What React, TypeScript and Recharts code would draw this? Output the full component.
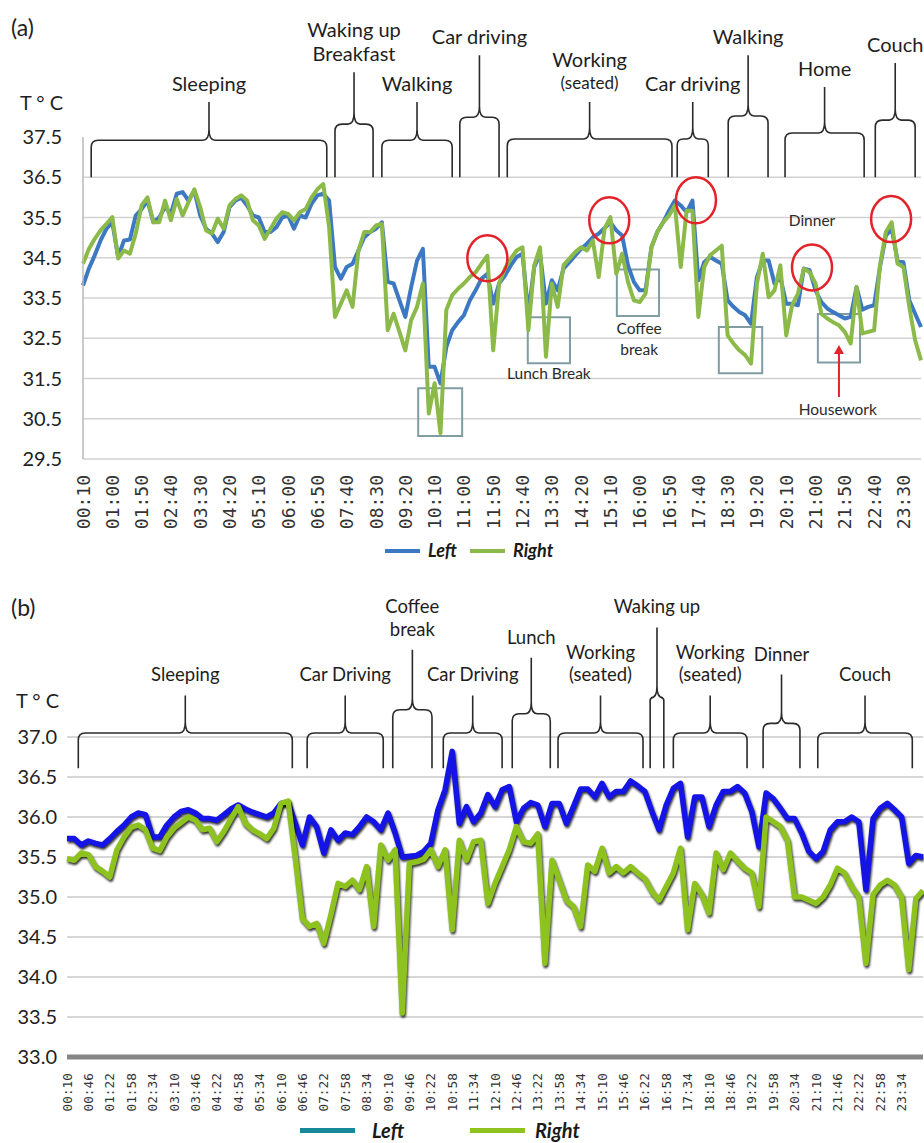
import React from 'react';
import {
  LineChart,
  Line,
  XAxis,
  YAxis,
  CartesianGrid,
  ReferenceArea,
  ReferenceDot,
  ReferenceLine,
} from 'recharts';

// Panel (a): skin temperature, one reading every 10 min from 00:10
const START_A = 10;
const STEP_A = 10;
const LEFT_A = [
  33.81, 34.23, 34.56, 34.93, 35.22, 35.38, 34.52, 34.93, 34.95, 35.55,
  35.71, 35.92, 35.38, 35.5, 35.76, 35.6, 36.09, 36.13, 35.92, 36.17,
  35.55, 35.22, 35.1, 34.89, 35.14, 35.76, 35.92, 35.99, 35.8, 35.55,
  35.5, 35.14, 35.14, 35.26, 35.5, 35.55, 35.22, 35.55, 35.5, 35.84,
  36.05, 36.09, 35.92, 34.27, 33.98, 34.27, 34.35, 34.68, 35.01, 35.14,
  35.22, 35.38, 33.9, 33.86, 33.44, 33.03, 33.77, 34.43, 34.72, 31.79,
  31.79, 31.38, 32.28, 32.7, 32.9, 33.07, 33.44, 33.69, 33.98, 34.1,
  33.36, 33.86, 34.06, 34.31, 34.52, 34.6, 33.11, 34.27, 34.6, 33.36,
  33.94, 33.69, 34.23, 34.39, 34.56, 34.72, 34.85, 35.01, 35.1, 35.24,
  35.38, 35.18, 35.05, 34.31, 33.9, 33.69, 33.69, 34.76, 35.14, 35.38,
  35.67, 35.92, 35.8, 35.63, 35.92, 33.94, 34.39, 34.52, 34.43, 34.35,
  33.44, 33.28, 33.15, 33.07, 32.86, 34.02, 34.43, 34.43, 33.86, 34.02,
  33.36, 33.36, 33.32, 34.23, 34.19, 33.69, 33.4, 33.24, 33.15, 33.07,
  32.99, 33.03, 33.77, 33.21, 33.28, 33.32, 34.27, 35.05, 35.22, 34.43,
  34.39, 33.44, 33.11, 32.78,
];
const RIGHT_A = [
  34.35, 34.72, 34.97, 35.18, 35.34, 35.51, 34.48, 34.68, 34.6, 35.1,
  35.8, 36.0, 35.38, 35.38, 35.92, 35.43, 35.96, 35.55, 35.88, 36.2,
  35.76, 35.18, 35.1, 35.47, 35.22, 35.8, 35.96, 36.05, 35.92, 35.43,
  35.3, 34.97, 35.22, 35.47, 35.63, 35.59, 35.43, 35.63, 35.71, 36.0,
  36.2, 36.33, 35.26, 33.03, 33.36, 33.69, 33.28, 34.68, 35.14, 35.14,
  35.3, 35.34, 32.7, 33.11, 32.66, 32.2, 32.95, 33.28, 33.86, 30.63,
  31.38, 30.14, 33.2, 33.57, 33.73, 33.86, 34.02, 34.14, 34.35, 34.55,
  32.2, 33.86, 34.23, 34.48, 34.68, 34.76, 32.7, 34.31, 34.76, 32.04,
  33.86, 33.28, 34.31, 34.48, 34.64, 34.76, 34.68, 34.93, 34.02, 35.22,
  35.51, 34.1, 34.6, 33.9, 33.44, 33.4, 33.61, 34.76, 35.14, 35.38,
  35.55, 35.8, 34.27, 35.67, 35.67, 33.03, 34.27, 34.56, 34.68, 34.8,
  32.57, 32.37, 32.2, 32.08, 31.87, 33.86, 34.6, 33.52, 33.69, 34.31,
  32.57, 33.32, 33.61, 34.23, 34.14, 33.86, 33.11, 32.99, 32.9, 32.82,
  32.66, 32.37, 33.77, 32.62, 32.66, 32.7, 34.31, 35.14, 35.38, 34.35,
  34.27, 33.28, 32.45, 31.95,
];
const TICKS_A = [
  10, 60, 110, 160, 210, 260, 310, 360, 410, 460, 510, 560, 610, 660, 710,
  760, 810, 860, 910, 960, 1010, 1060, 1110, 1160, 1210, 1260, 1310, 1360, 1410,
];
const Y_TICKS_A = [29.5, 30.5, 31.5, 32.5, 33.5, 34.5, 35.5, 36.5, 37.5];
const GRID_A = [29.5, 30.5, 31.5, 32.5, 33.5, 34.5, 35.5, 36.5];

// Panel (b): one reading every 12 min from 00:10
const START_B = 10;
const STEP_B = 12;
const LEFT_B = [
  35.73, 35.73, 35.65, 35.7, 35.67, 35.65, 35.73, 35.82, 35.9, 36.0,
  36.05, 36.03, 35.75, 35.75, 35.9, 36.0, 36.07, 36.09, 36.05, 35.98,
  35.98, 35.96, 36.03, 36.1, 36.15, 36.1, 36.06, 36.03, 36.0, 36.05,
  36.17, 36.18, 35.92, 35.65, 36.0, 35.88, 35.55, 35.84, 35.71, 35.8,
  35.78, 35.88, 36.0, 35.94, 35.84, 36.05, 35.8, 35.5, 35.51, 35.52,
  35.57, 35.67, 36.09, 36.34, 36.82, 35.92, 36.13, 35.94, 36.05, 36.28,
  36.13, 36.34, 36.38, 35.94, 36.11, 36.18, 36.15, 35.88, 36.17, 36.17,
  35.92, 36.13, 36.35, 36.35, 36.25, 36.42, 36.25, 36.32, 36.32, 36.45,
  36.39, 36.32, 36.07, 35.84, 36.15, 36.36, 36.42, 35.75, 36.25, 36.25,
  35.88, 36.15, 36.32, 36.32, 36.38, 36.3, 36.07, 35.63, 36.3, 36.23,
  36.11, 35.98, 35.98, 35.8, 35.57, 35.48, 35.57, 35.84, 35.94, 35.94,
  36.0, 35.94, 35.09, 35.98, 36.11, 36.17, 36.09, 36.0, 35.42, 35.52,
  35.5,
];
const RIGHT_B = [
  35.48, 35.46, 35.55, 35.53, 35.38, 35.32, 35.25, 35.59, 35.75, 35.87,
  35.9, 35.84, 35.61, 35.58, 35.75, 35.86, 35.93, 36.0, 35.96, 35.84,
  35.86, 35.69, 35.82, 35.98, 36.13, 35.92, 35.84, 35.79, 35.73, 35.86,
  36.17, 36.2, 35.5, 34.73, 34.63, 34.67, 34.42, 34.78, 35.17, 35.13,
  35.21, 35.09, 35.38, 34.63, 35.65, 35.46, 35.59, 33.55, 35.42, 35.44,
  35.47, 35.59, 35.38, 35.59, 34.59, 35.71, 35.46, 35.69, 35.71, 34.92,
  35.17, 35.38, 35.59, 35.88, 35.69, 35.67, 35.79, 34.17, 35.46, 35.21,
  34.96, 34.88, 34.63, 35.4, 35.32, 35.61, 35.3, 35.38, 35.3, 35.38,
  35.3, 35.23, 35.07, 34.96, 35.13, 35.3, 35.61, 34.59, 35.17, 35.03,
  34.8, 35.55, 35.34, 35.55, 35.45, 35.36, 35.3, 34.88, 36.0, 35.94,
  35.88, 35.71, 35.0, 35.0, 34.96, 34.92, 35.0, 35.15, 35.36, 35.3,
  35.13, 35.0, 34.17, 35.03, 35.15, 35.21, 35.15, 35.0, 34.09, 34.98,
  35.08,
];
const TICKS_B = [
  10, 46, 82, 118, 154, 190, 226, 262, 298, 334, 370, 406, 442, 478, 514, 550,
  586, 622, 658, 694, 730, 766, 802, 838, 874, 910, 946, 982, 1018, 1054, 1090,
  1126, 1162, 1198, 1234, 1270, 1306, 1342, 1378, 1414,
];
const Y_TICKS_B = [33.0, 33.5, 34.0, 34.5, 35.0, 35.5, 36.0, 36.5, 37.0];
const GRID_B = [33.5, 34.0, 34.5, 35.0, 35.5, 36.0, 36.5, 37.0];

// activity periods (minutes) with brace levels in °C
const BRACKETS_A = [
  { label: ['Sleeping'], from: 24, to: 426, top: 37.42, peak: 38.37 },
  { label: ['Waking up', 'Breakfast'], from: 440, to: 505, top: 37.82, peak: 39.11 },
  { label: ['Walking'], from: 520, to: 640, top: 37.42, peak: 38.37 },
  { label: ['Car driving'], from: 653, to: 720, top: 37.99, peak: 39.53 },
  { label: ['Working', '(seated)'], from: 734, to: 1015, top: 37.45, peak: 38.37 },
  { label: ['Car driving'], from: 1024, to: 1077, top: 37.45, peak: 38.37 },
  { label: ['Walking'], from: 1111, to: 1179, top: 38.02, peak: 39.53 },
  { label: ['Home'], from: 1208, to: 1343, top: 37.6, peak: 38.74 },
  { label: ['Couch'], from: 1362, to: 1430, top: 37.92, peak: 39.34 },
];
const BRACKETS_B = [
  { label: ['Sleeping'], from: 29, to: 389, top: 37.05, peak: 37.52 },
  { label: ['Car Driving'], from: 414, to: 542, top: 37.05, peak: 37.52 },
  { label: ['Coffee', 'break'], from: 558, to: 624, top: 37.34, peak: 38.09 },
  { label: ['Car Driving'], from: 643, to: 742, top: 37.05, peak: 37.52 },
  { label: ['Lunch'], from: 759, to: 823, top: 37.29, peak: 37.99 },
  { label: ['Working', '(seated)'], from: 836, to: 979, top: 37.05, peak: 37.52 },
  { label: ['Waking up'], from: 991, to: 1014, top: 37.49, peak: 38.37 },
  { label: ['Working', '(seated)'], from: 1030, to: 1154, top: 37.05, peak: 37.52 },
  { label: ['Dinner'], from: 1181, to: 1243, top: 37.17, peak: 37.78 },
  { label: ['Couch'], from: 1273, to: 1432, top: 37.05, peak: 37.52 },
];

const CIRCLES_A = [
  { t: 700, v: 34.49 },
  { t: 908, v: 35.43 },
  { t: 1056, v: 35.93 },
  { t: 1254, v: 34.26 },
  { t: 1389, v: 35.46 },
];
const BOXES_A = [
  { t1: 582, t2: 657, v1: 30.07, v2: 31.26 },
  { t1: 769, t2: 841, v1: 31.88, v2: 33.02 },
  { t1: 921, t2: 993, v1: 33.05, v2: 34.21 },
  { t1: 1095, t2: 1169, v1: 31.63, v2: 32.78 },
  { t1: 1264, t2: 1336, v1: 31.9, v2: 33.1 },
];
const NOTES_A = [
  { text: 'Lunch Break', t: 805, v: 31.64 },
  { text: 'Coffee', t: 959, v: 32.75 },
  { text: 'break', t: 959, v: 32.23 },
  { text: 'Dinner', t: 1254, v: 35.43 },
  { text: 'Housework', t: 1298, v: 30.74 },
];

const hhmm = (m: number) =>
  `${String(Math.floor(m / 60)).padStart(2, '0')}:${String(m % 60).padStart(2, '0')}`;

const dataA = LEFT_A.map((v, i) => ({ t: START_A + i * STEP_A, left: v, right: RIGHT_A[i] }));
const dataB = LEFT_B.map((v, i) => ({ t: START_B + i * STEP_B, left: v, right: RIGHT_B[i] }));

const SANS = 'Lato, "Noto Sans", sans-serif';
const MONO = '"DejaVu Sans Mono", monospace';

// curly brace drawn over the period, with its caption above the tip
const braceShape = (b: any, base: number, size: number, gap: number, smallParen: boolean) =>
  (p: any) => {
    const { x, y, width, height } = p;
    if (!isFinite(x) || !isFinite(y)) return <g />;
    const bottom = y + height;
    const flat = y + (height * (b.peak - b.top)) / (b.peak - base);
    const xm = x + width / 2;
    const xr = x + width;
    const r = Math.min(7, width / 5);
    const neck = Math.min(11, (flat - y) * 0.6);
    const d =
      `M${x},${bottom} L${x},${flat + r} Q${x},${flat} ${x + r},${flat} ` +
      `L${xm - 6},${flat} Q${xm},${flat} ${xm},${flat - neck} L${xm},${y} ` +
      `M${xm},${flat - neck} Q${xm},${flat} ${xm + 6},${flat} ` +
      `L${xr - r},${flat} Q${xr},${flat} ${xr},${flat + r} L${xr},${bottom}`;
    const n = b.label.length;
    return (
      <g>
        <path d={d} fill="none" stroke="#2b2b2b" strokeWidth={1.6} />
        {b.label.map((s: string, i: number) => (
          <text
            key={s + i}
            x={xm}
            y={y - gap - (n - 1 - i) * (size + 4)}
            textAnchor="middle"
            dominantBaseline="central"
            fontFamily={SANS}
            fontSize={smallParen && s.startsWith('(') ? size - 3 : size}
            fill="#1e1e1e"
          >
            {s}
          </text>
        ))}
      </g>
    );
  };

const makeTimeTick = (size: number) => (p: any) => (
  <text
    x={p.x}
    y={p.y}
    transform={`rotate(-90, ${p.x}, ${p.y})`}
    textAnchor="end"
    dominantBaseline="central"
    fontFamily={MONO}
    fontSize={size}
    fill="#333"
  >
    {hhmm(p.payload.value)}
  </text>
);

const LegendRow = ({ top, items, size }: { top: number; items: any[]; size: number }) => (
  <>
    {items.map((it) => (
      <React.Fragment key={it.name}>
        <div
          style={{
            position: 'absolute',
            left: it.x1,
            top: top - it.w / 2,
            width: it.x2 - it.x1,
            height: it.w,
            background: it.color,
          }}
        />
        <div
          style={{
            position: 'absolute',
            left: it.tx,
            top: top - size * 0.7,
            fontFamily: SANS,
            fontWeight: 700,
            fontStyle: 'italic',
            fontSize: size,
            lineHeight: `${size * 1.4}px`,
            color: '#1a1a1a',
          }}
        >
          {it.name}
        </div>
      </React.Fragment>
    ))}
  </>
);

const PanelA = () => (
  <div style={{ position: 'absolute', left: 0, top: 0 }}>
    <LineChart width={924} height={540} data={dataA} margin={{ top: 137, right: 3, bottom: 21, left: 0 }}>
      <CartesianGrid vertical={false} horizontalValues={GRID_A} stroke="#d2d2d2" strokeWidth={1.5} />
      <XAxis
        dataKey="t"
        type="number"
        domain={[10, 1440]}
        ticks={TICKS_A}
        interval={0}
        axisLine={false}
        tickLine={false}
        tickSize={0}
        tickMargin={16}
        height={60}
        tick={makeTimeTick(18)}
      />
      <YAxis
        type="number"
        domain={[29.5, 37.5]}
        ticks={Y_TICKS_A}
        interval={0}
        width={83}
        axisLine={{ stroke: '#b8b8b8', strokeWidth: 1.5 }}
        tickLine={false}
        tickSize={0}
        tickMargin={21}
        tick={{ fontFamily: SANS, fontSize: 20, fill: '#222' }}
        tickFormatter={(v: number) => v.toFixed(1)}
      />
      <Line
        type="linear"
        dataKey="left"
        stroke="#3d78c2"
        strokeWidth={4}
        strokeLinejoin="round"
        dot={false}
        isAnimationActive={false}
      />
      <Line
        type="linear"
        dataKey="right"
        stroke="#8cba4a"
        strokeWidth={4}
        strokeLinejoin="round"
        dot={false}
        isAnimationActive={false}
      />
      {BRACKETS_A.map((b, i) => (
        <ReferenceArea
          key={'ba' + i}
          x1={b.from}
          x2={b.to}
          y1={36.5}
          y2={b.peak}
          ifOverflow="visible"
          shape={braceShape(b, 36.5, 20, 19, true)}
        />
      ))}
      {BOXES_A.map((b, i) => (
        <ReferenceArea
          key={'bx' + i}
          x1={b.t1}
          x2={b.t2}
          y1={b.v1}
          y2={b.v2}
          fill="none"
          fillOpacity={0}
          stroke="#7f9da3"
          strokeWidth={2}
          ifOverflow="visible"
        />
      ))}
      {CIRCLES_A.map((c, i) => (
        <ReferenceDot
          key={'c' + i}
          x={c.t}
          y={c.v}
          r={20}
          ifOverflow="visible"
          shape={(p: any) => (
            <ellipse cx={p.cx} cy={p.cy} rx={20} ry={23} fill="none" stroke="#e3232a" strokeWidth={2.5} />
          )}
        />
      ))}
      {NOTES_A.map((n, i) => (
        <ReferenceDot
          key={'n' + i}
          x={n.t}
          y={n.v}
          r={1}
          ifOverflow="visible"
          shape={(p: any) => (
            <text
              x={p.cx}
              y={p.cy}
              textAnchor="middle"
              dominantBaseline="central"
              fontFamily={SANS}
              fontSize={15.5}
              fill="#2a2a2a"
            >
              {n.text}
            </text>
          )}
        />
      ))}
      <ReferenceLine
        segment={[
          { x: 1300, y: 31.04 },
          { x: 1300, y: 32.33 },
        ]}
        ifOverflow="visible"
        shape={(p: any) => (
          <g>
            <line x1={p.x1} y1={p.y1} x2={p.x2} y2={p.y2 + 6} stroke="#e3232a" strokeWidth={2} />
            <path
              d={`M${p.x2 - 5},${p.y2 + 9} L${p.x2},${p.y2} L${p.x2 + 5},${p.y2 + 9} Z`}
              fill="#e3232a"
            />
          </g>
        )}
      />
    </LineChart>
  </div>
);

const PanelB = () => (
  <div style={{ position: 'absolute', left: 0, top: 590 }}>
    <LineChart width={924} height={553} data={dataB} margin={{ top: 147, right: 1, bottom: 36, left: 0 }}>
      <CartesianGrid vertical={false} horizontalValues={GRID_B} stroke="#c9c9c9" strokeWidth={1.5} />
      <XAxis
        dataKey="t"
        type="number"
        domain={[10, 1450]}
        ticks={TICKS_B}
        interval={0}
        axisLine={{ stroke: '#858585', strokeWidth: 5 }}
        tickLine={false}
        tickSize={0}
        tickMargin={16}
        height={50}
        tick={makeTimeTick(12.8)}
      />
      <YAxis
        type="number"
        domain={[33, 37]}
        ticks={Y_TICKS_B}
        interval={0}
        width={67}
        axisLine={false}
        tickLine={false}
        tickSize={0}
        tickMargin={10}
        tick={{ fontFamily: SANS, fontSize: 20, fill: '#222' }}
        tickFormatter={(v: number) => v.toFixed(1)}
      />
      <Line
        className="shadow-b"
        type="linear"
        dataKey="left"
        stroke="#1414e6"
        strokeWidth={5.5}
        strokeLinejoin="round"
        dot={false}
        isAnimationActive={false}
      />
      <Line
        className="shadow-b"
        type="linear"
        dataKey="right"
        stroke="#8dc21f"
        strokeWidth={5.5}
        strokeLinejoin="round"
        dot={false}
        isAnimationActive={false}
      />
      {BRACKETS_B.map((b, i) => (
        <ReferenceArea
          key={'bb' + i}
          x1={b.from}
          x2={b.to}
          y1={36.61}
          y2={b.peak}
          ifOverflow="visible"
          shape={braceShape(b, 36.61, 18.5, 21, false)}
        />
      ))}
    </LineChart>
  </div>
);

const labelStyle = (left: number, top: number, size: number): React.CSSProperties => ({
  position: 'absolute',
  left,
  top,
  fontFamily: SANS,
  fontSize: size,
  lineHeight: `${size}px`,
  color: '#1e1e1e',
  whiteSpace: 'pre',
});

export default function App() {
  return (
    <div
      style={{
        position: 'absolute',
        left: 0,
        top: 0,
        width: 924,
        height: 1143,
        overflow: 'hidden',
        background: '#fff',
      }}
    >
      <style>{`.shadow-b { filter: drop-shadow(1.5px 2.5px 0.8px rgba(0,0,0,0.8)); }`}</style>
      <PanelA />
      <PanelB />
      <div style={labelStyle(11, 16, 23)}>(a)</div>
      <div style={labelStyle(20, 92, 20)}>{'T ° C'}</div>
      <div style={labelStyle(11, 596, 23)}>(b)</div>
      <div style={labelStyle(16, 690, 20)}>{'T ° C'}</div>
      <LegendRow
        top={551}
        size={18}
        items={[
          { name: 'Left', x1: 385, x2: 420, w: 4, color: '#3d78c2', tx: 428 },
          { name: 'Right', x1: 470, x2: 505, w: 4, color: '#8cba4a', tx: 513 },
        ]}
      />
      <LegendRow
        top={1130}
        size={20}
        items={[
          { name: 'Left', x1: 300, x2: 355, w: 5, color: '#17879a', tx: 372 },
          { name: 'Right', x1: 470, x2: 525, w: 5, color: '#8dc21f', tx: 535 },
        ]}
      />
    </div>
  );
}
